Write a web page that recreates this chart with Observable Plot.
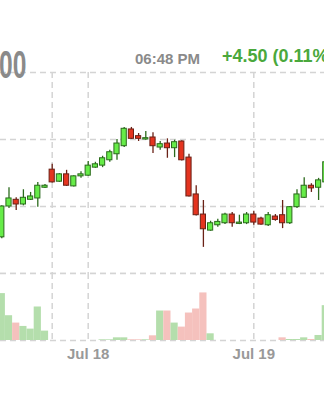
<!DOCTYPE html>
<html><head><meta charset="utf-8">
<script src="https://cdn.jsdelivr.net/npm/d3@7"></script>
<script src="https://cdn.jsdelivr.net/npm/@observablehq/plot@0.6"></script>
<style>
html,body{margin:0;padding:0;background:#fff;}
#wrap{position:relative;width:324px;height:400px;overflow:hidden;background:#fff;font-family:"Liberation Sans",Arial,sans-serif;}
#wrap svg{position:absolute;left:0;}
.t{position:absolute;white-space:nowrap;font-weight:bold;z-index:5;}
#last{left:-1px;top:45px;font-size:39px;line-height:39px;color:#8a8a8a;transform:scaleX(0.63);transform-origin:0 0;}
#time{left:135px;top:51px;font-size:15px;line-height:15px;color:#8a8a8a;}
#chg{left:222px;top:47px;font-size:18px;line-height:18px;color:#4aa83c;}
</style></head><body>
<div id="wrap">
<div class="t" id="last">00</div>
<div class="t" id="time">06:48 PM</div>
<div class="t" id="chg">+4.50 (0.11%)</div>
</div>
<script>
// hourly candles (index = bar number)
const opens  = [4075.4,4080.0,4081.0,4080.3,4081.0,4081.2,4082.8,4085.5,4083.7,4084.8,4083.0,4084.5,4084.6,4085.8,4086.1,4086.9,4087.8,4089.0,4091.5,4090.5,4090.0,4090.3,4088.8,4089.4,4088.7,4089.7,4087.3,4081.8,4078.8,4076.4,4077.2,4077.5,4078.8,4077.4,4077.5,4078.8,4078.2,4077.2,4078.5,4078.7,4077.5,4079.9,4081.3,4083.1,4082.8,4083.6];
const highs  = [4080.1,4082.8,4081.3,4082.5,4082.1,4083.6,4083.3,4086.3,4084.9,4085.4,4084.6,4085.2,4086.7,4086.6,4087.5,4088.4,4090.0,4091.8,4091.8,4090.9,4091.2,4091.0,4089.7,4090.1,4089.9,4089.8,4087.8,4083.1,4080.9,4077.8,4078.1,4079.0,4079.1,4078.7,4079.1,4079.3,4078.4,4079.1,4078.8,4080.9,4080.0,4082.5,4084.3,4083.4,4084.2,4086.9];
const lows   = [4075.2,4079.7,4079.4,4080.1,4080.9,4079.9,4082.7,4083.5,4083.6,4083.0,4082.9,4084.2,4084.5,4085.7,4085.8,4086.6,4086.9,4088.8,4090.0,4089.7,4089.9,4087.9,4088.4,4087.2,4087.3,4086.8,4081.4,4078.6,4073.9,4076.3,4076.9,4077.3,4076.9,4077.3,4077.3,4077.2,4077.2,4077.0,4077.8,4076.7,4077.3,4079.7,4081.2,4082.1,4080.9,4083.3];
const closes = [4080.0,4081.2,4080.3,4081.3,4081.5,4083.1,4083.1,4083.6,4084.8,4083.1,4084.5,4084.8,4086.1,4086.3,4087.2,4088.1,4089.4,4091.6,4090.1,4090.1,4090.2,4089.0,4089.3,4088.7,4089.6,4086.9,4081.5,4078.7,4076.6,4077.5,4077.7,4078.8,4077.5,4077.6,4078.8,4077.6,4077.3,4078.7,4078.0,4077.5,4079.9,4081.8,4083.1,4082.7,4083.9,4086.6];
const volumes = [70,37,26,21,17,50,14,0,0,0,0,0,0,0,1,1,4,4,1,1,1,7,44,44,26,20,41,47,71,10,0,0,0,0,0,0,0,0,0,4,1.5,1.5,4,1.5,7.5,52];
const priceGrid = [4070,4080,4090,4100];
const volumeGrid = [0,100];
const gridBars = [7,12,35];
const tickBars = [12,35];
const tickLabels = ["Jul 18","Jul 19"];

const candles = opens.map((o,i)=>({i,o,h:highs[i],l:lows[i],c:closes[i],v:volumes[i],up:closes[i]>=o}));
const xDomain = [-0.1806, 44.8194];
const font = "Liberation Sans, Arial, sans-serif";
const gridStyle = {stroke:"#d4d4d4", strokeWidth:1.5, strokeDasharray:"6,4"};

const price = Plot.plot({
  width:324, height:274, marginTop:72, marginBottom:1, marginLeft:0, marginRight:0,
  style:{background:"transparent", fontFamily:font},
  x:{domain:xDomain, range:[0,324], axis:null},
  y:{domain:[4070,4100], axis:null},
  marks:[
    Plot.ruleY(priceGrid, gridStyle),
    Plot.ruleX(gridBars, gridStyle),
    Plot.ruleX(candles, {x:"i", y1:"l", y2:"h", stroke:d=>d.up?"#2b6a1c":"#6a2116", strokeWidth:1.3}),
    Plot.rect(candles, {x1:d=>d.i-0.36, x2:d=>d.i+0.36, y1:"o", y2:"c",
      fill:d=>d.up?"#66ec48":"#e4341f", stroke:d=>d.up?"#2b6a1c":"#6a2116", strokeWidth:1})
  ]
});
price.style.top = "0px";

const volume = Plot.plot({
  width:324, height:130, marginTop:3, marginBottom:60, marginLeft:0, marginRight:0,
  style:{background:"transparent", fontFamily:font},
  x:{domain:xDomain, range:[0,324], axis:null},
  y:{domain:[0,100], axis:null},
  marks:[
    Plot.ruleY(volumeGrid, gridStyle),
    Plot.ruleX(gridBars, gridStyle),
    Plot.rect(candles.filter(d=>d.v>0), {x1:d=>d.i-0.5, x2:d=>d.i+0.5, y1:0, y2:"v", inset:0,
      fill:d=>d.up?"#b4deac":"#f5c1bd"}),
    Plot.text(tickBars, {x:d=>d, text:(d,i)=>tickLabels[i], frameAnchor:"bottom", lineAnchor:"top", dy:8,
      fontSize:15, fontWeight:"bold", fill:"#999"})
  ]
});
volume.style.top = "270px";

const wrap = document.getElementById("wrap");
wrap.insertBefore(volume, wrap.firstChild);
wrap.insertBefore(price, wrap.firstChild);
</script>
</body></html>
